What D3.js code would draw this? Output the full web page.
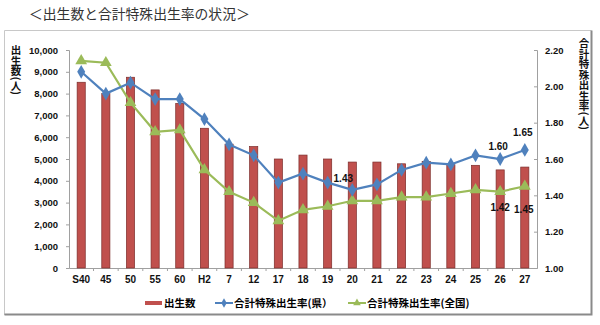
<!DOCTYPE html>
<html>
<head>
<meta charset="utf-8">
<script src="https://cdn.jsdelivr.net/npm/d3@7"></script>
<style>
  html, body { margin: 0; padding: 0; background: #fff; }
  svg { display: block; }
  text { font-family: "Liberation Sans", Arial, "Noto Sans CJK JP", sans-serif; }
  .jp { font-family: "Noto Sans CJK JP", "Noto Sans CJK SC", sans-serif; }
  .vt { writing-mode: vertical-rl; text-orientation: mixed; }
</style>
</head>
<body>
<svg id="chart" width="600" height="325"></svg>
<script>
// 年次（昭和40年〜平成27年）
const categories = ["S40", "45", "50", "55", "60", "H2", "7", "12", "17", "18", "19", "20", "21", "22", "23", "24", "25", "26", "27"];
// 出生数（人）
const births = [8520, 8010, 8750, 8170, 7550, 6410, 5680, 5570, 5000, 5180, 5000, 4860, 4860, 4780, 4880, 4740, 4710, 4500, 4630];
// 合計特殊出生率（県）
const rateKen = [2.08, 1.96, 2.02, 1.93, 1.93, 1.82, 1.68, 1.62, 1.47, 1.52, 1.47, 1.43, 1.46, 1.54, 1.58, 1.57, 1.62, 1.60, 1.65];
// 合計特殊出生率（全国）
const rateZenkoku = [2.14, 2.13, 1.91, 1.75, 1.76, 1.54, 1.42, 1.36, 1.26, 1.32, 1.34, 1.37, 1.37, 1.39, 1.39, 1.41, 1.43, 1.42, 1.45];
// 軸目盛
const leftTicks = [0, 1000, 2000, 3000, 4000, 5000, 6000, 7000, 8000, 9000, 10000];
const rightTicks = [1.0, 1.2, 1.4, 1.6, 1.8, 2.0, 2.2];

const svg = d3.select("#chart");
const plotL = 69, plotR = 537, plotT = 50, plotB = 268;

// 見出し
svg.append("text").attr("class", "jp")
  .attr("x", 29).attr("y", 19)
  .attr("font-size", 13.8).attr("fill", "#333")
  .text("＜出生数と合計特殊出生率の状況＞");

// グラフ枠
svg.append("path")
  .attr("d", `M4.5,315 L4.5,30.5 L591.5,30.5`)
  .attr("fill", "none").attr("stroke", "#c8c8c8").attr("stroke-width", 1);
svg.append("path")
  .attr("d", `M4.5,314.5 L591.5,314.5 L591.5,30.5`)
  .attr("fill", "none").attr("stroke", "#8a8a8a").attr("stroke-width", 2);

const x = d3.scaleBand().domain(categories).range([plotL, plotR]).paddingInner(0.67).paddingOuter(0.33);
const yL = d3.scaleLinear().domain([0, 10000]).range([plotB, plotT]);
const yR = d3.scaleLinear().domain([1.0, 2.2]).range([plotB, plotT]);
const cx = d => x(d) + x.bandwidth() / 2;

// 左軸
const axL = svg.append("g").attr("transform", `translate(${plotL},0)`)
  .call(d3.axisLeft(yL).tickValues(leftTicks).tickSize(3).tickPadding(8).tickFormat(d3.format(",")));
axL.select(".domain").attr("stroke", "#a0a0a0");
axL.selectAll(".tick line").attr("stroke", "#a0a0a0");
axL.selectAll("text").attr("font-size", 9.5).attr("font-weight", "bold").attr("fill", "#111");

// 右軸
const axR = svg.append("g").attr("transform", `translate(${plotR},0)`)
  .call(d3.axisRight(yR).tickValues(rightTicks).tickSize(-3).tickPadding(8).tickFormat(d3.format(".2f")));
axR.select(".domain").attr("stroke", "#a0a0a0");
axR.selectAll(".tick line").attr("stroke", "#a0a0a0");
axR.selectAll("text").attr("font-size", 9.5).attr("font-weight", "bold").attr("fill", "#111");

// 横軸
const axB = svg.append("g").attr("transform", `translate(0,${plotB})`)
  .call(d3.axisBottom(x).tickSize(0).tickPadding(8));
axB.select(".domain").attr("stroke", "#a0a0a0");
axB.selectAll("text").attr("font-size", 10).attr("font-weight", "bold").attr("fill", "#111");
axB.selectAll(".tick").each(function (d, i) {
  if (i > 0) d3.select(this).append("line").attr("x1", -x.step() / 2).attr("x2", -x.step() / 2)
    .attr("y1", 0).attr("y2", 3).attr("stroke", "#a0a0a0");
});

// 軸タイトル（縦書き）
function vertical(txt, xx, y0) {
  svg.append("text").attr("class", "jp vt")
    .attr("x", xx).attr("y", y0)
    .attr("font-size", 10.5).attr("font-weight", "bold").attr("fill", "#111")
    .text(txt);
}
vertical("出生数(人)", 16, 45);
vertical("合計特殊出生率(人)", 584, 38);

// 出生数（棒）
svg.append("g").selectAll("rect").data(births).join("rect")
  .attr("x", (d, i) => x(categories[i]))
  .attr("y", d => yL(d))
  .attr("width", x.bandwidth())
  .attr("height", d => plotB - yL(d))
  .attr("fill", "#c0504d").attr("stroke", "#7b2c2a").attr("stroke-width", 0.7);

// 折れ線
function series(vals, color, symbol, size) {
  const line = d3.line().x((d, i) => cx(categories[i])).y(d => yR(d));
  svg.append("path").datum(vals).attr("d", line)
    .attr("fill", "none").attr("stroke", color).attr("stroke-width", 2.2);
  svg.append("g").selectAll("path").data(vals).join("path")
    .attr("transform", (d, i) => `translate(${cx(categories[i])},${yR(d)})`)
    .attr("d", d3.symbol().type(symbol).size(size))
    .attr("fill", color);
}
series(rateZenkoku, "#9bbb59", d3.symbolTriangle, 60);
series(rateKen, "#4f81bd", d3.symbolDiamond, 55);

// 値ラベル
function labels(vals, cats, dx, dy) {
  cats.forEach(c => {
    const i = categories.indexOf(c);
    svg.append("text").attr("x", cx(c) + dx).attr("y", yR(vals[i]) + dy)
      .attr("text-anchor", "middle").attr("font-size", 10).attr("font-weight", "bold").attr("fill", "#111")
      .text(vals[i].toFixed(2));
  });
}
labels(rateKen, ["20"], -9, -8);
labels(rateKen, ["26"], -2, -9);
labels(rateKen, ["27"], -2, -14);
labels(rateZenkoku, ["26"], 0, 19);
labels(rateZenkoku, ["27"], -1, 27);

// 凡例
const lg = svg.append("g").attr("transform", "translate(0,303)");
lg.append("rect").attr("x", 145).attr("y", -2).attr("width", 17).attr("height", 4).attr("fill", "#c0504d");
lg.append("text").attr("class", "jp").attr("x", 164).attr("y", 4).attr("font-size", 10.5).attr("font-weight", "bold").text("出生数");
lg.append("line").attr("x1", 215).attr("x2", 233).attr("y1", 0).attr("y2", 0).attr("stroke", "#4f81bd").attr("stroke-width", 2);
lg.append("path").attr("transform", "translate(224,0)").attr("d", d3.symbol().type(d3.symbolDiamond).size(25)).attr("fill", "#4f81bd");
lg.append("text").attr("class", "jp").attr("x", 234).attr("y", 4).attr("font-size", 10.5).attr("font-weight", "bold").text("合計特殊出生率(県）");
lg.append("line").attr("x1", 348).attr("x2", 366).attr("y1", 0).attr("y2", 0).attr("stroke", "#9bbb59").attr("stroke-width", 2);
lg.append("path").attr("transform", "translate(357,0)").attr("d", d3.symbol().type(d3.symbolTriangle).size(25)).attr("fill", "#9bbb59");
lg.append("text").attr("class", "jp").attr("x", 367).attr("y", 4).attr("font-size", 10.5).attr("font-weight", "bold").text("合計特殊出生率(全国)");
</script>
</body>
</html>
